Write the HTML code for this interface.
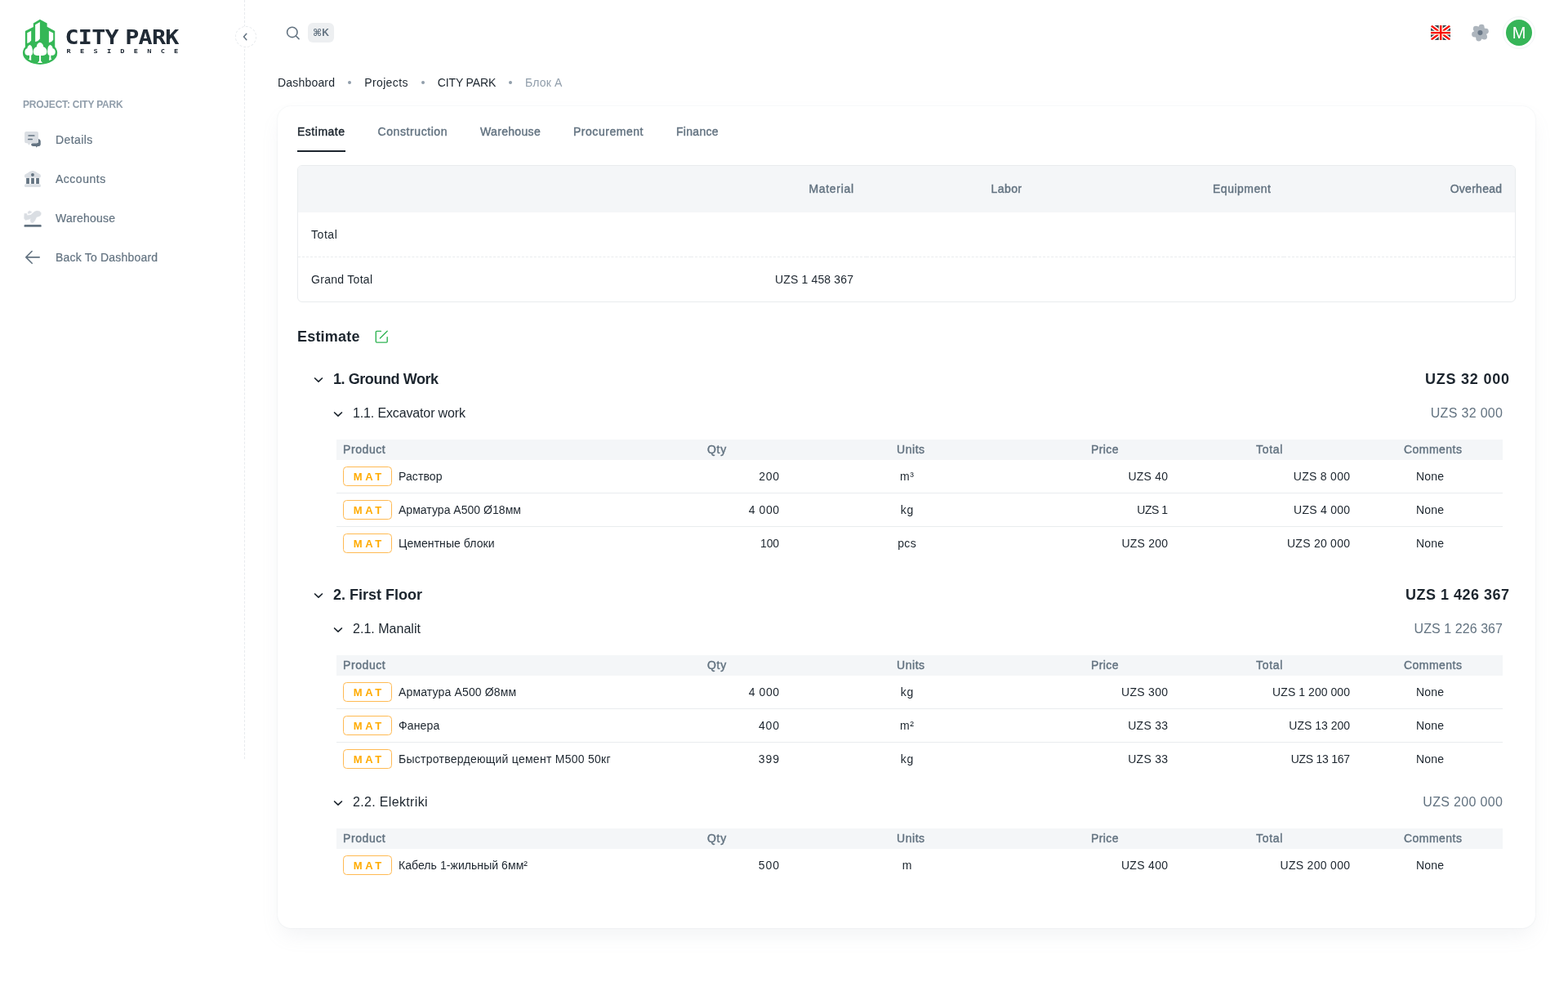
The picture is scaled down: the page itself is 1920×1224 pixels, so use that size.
<!DOCTYPE html>
<html lang="en"><head>
<meta charset="utf-8">
<title>CITY PARK — Блок A — Estimate</title>
<style>
*{box-sizing:border-box;margin:0;padding:0}
html,body{width:1920px;height:1224px;background:#fff;overflow:hidden}
body{font-family:"Liberation Sans",sans-serif;font-size:14px;line-height:22px;color:#1C252E;position:relative;-webkit-font-smoothing:antialiased}
svg{display:block}
/* ---------- sidebar ---------- */
.nav{position:absolute;left:0;top:0;width:300px;height:929px;border-right:1px dashed #E7EAED}
.logo{position:absolute;left:20px;top:15px;width:60px;height:70px}
.brand{position:absolute;left:80px;top:29px;width:142px;height:44px;color:#212B36;font-family:"DejaVu Sans Mono","Liberation Mono",monospace;font-weight:700;white-space:nowrap}
.brand b{position:absolute;left:-0.6px;top:3px;font-size:28.4px;line-height:32px;letter-spacing:-0.7px;word-spacing:-8.2px;transform:scaleY(.885);transform-origin:0 0}
.brand i{position:absolute;left:1.6px;top:28.3px;font-style:normal;font-size:8.6px;line-height:12px;letter-spacing:11.26px;transform:scaleY(.88);transform-origin:0 0}
.sub{position:absolute;left:28px;top:119px;font-size:12px;line-height:18px;font-weight:700;color:#919EAB;text-transform:uppercase;white-space:nowrap}
.menu{position:absolute;left:16px;top:149px;width:268px;list-style:none}
.menu li{height:44px;margin-bottom:4px;padding:0 8px 0 12px;display:flex;align-items:center;color:#637381;font-weight:500;-webkit-text-stroke:.2px currentColor;border-radius:8px;white-space:nowrap}
.menu li svg{width:24px;height:24px;margin-right:16px;flex:none}
.toggle{position:absolute;left:288px;top:32px;width:26px;height:26px;border-radius:50%;border:1px dashed #E7EAED;background:#fff}
.toggle svg{position:absolute;left:3.4px;top:3.8px;width:16px;height:16px}
/* ---------- header ---------- */
.hdr{position:absolute;left:300px;top:0;width:1620px;height:72px}
.hdr .search{position:absolute;left:47px;top:28px;width:24px;height:24px}
.kbd{position:absolute;left:77px;top:28px;width:32px;height:24px;border-radius:6px;background:#EDEFF1;color:#637381;font-size:12px;line-height:24px;font-weight:700;text-align:center;font-family:"Liberation Sans","DejaVu Sans",sans-serif;white-space:nowrap}
.flag{position:absolute;left:1452px;top:31px;width:24px;height:18px;border-radius:2.5px;overflow:hidden}
.gear{position:absolute;left:1500px;top:28px;width:24px;height:24px}
.ava{position:absolute;left:1540px;top:20px;width:40px;height:40px;border-radius:50%;border:1.5px solid #F1F3F5;display:flex;align-items:center;justify-content:center}
.ava span{width:32px;height:32px;border-radius:50%;background:#36B558;color:#fff;font-size:20px;line-height:32px;text-align:center;display:block}
/* ---------- main ---------- */
.crumbs{position:absolute;left:340px;top:90px;height:22px;display:flex;align-items:center;list-style:none;white-space:nowrap}
.crumbs li{display:block}
.crumbs li.dot{width:4px;height:4px;border-radius:50%;background:#919EAB;margin:0 16px}
.crumbs li.cur{color:#919EAB}
.card{position:absolute;left:340px;top:130px;width:1540px;height:1006px;border-radius:16px;background:#fff;box-shadow:0 0 2px 0 rgba(145,158,171,.2),0 12px 24px -4px rgba(145,158,171,.12)}
.tabs{position:absolute;left:24px;top:7px;height:48px;display:flex;list-style:none;white-space:nowrap}
.tabs li{height:48px;line-height:48px;font-weight:400;-webkit-text-stroke:.42px currentColor;color:#637381;margin-right:40px;position:relative}
.tabs li.on{color:#1C252E}
.tabs li.on:after{content:"";position:absolute;left:0;right:0;bottom:-1px;height:2px;background:#1C252E}
.sum{position:absolute;left:24px;top:72px;width:1492px;height:168px;border:1px solid #E9ECEE;border-radius:6px;overflow:hidden}
.sum table{border-collapse:separate;border-spacing:0;width:1490px;table-layout:fixed}
.sum th{height:57px;background:#F4F6F8;color:#637381;font-weight:400;-webkit-text-stroke:.42px currentColor;text-align:right;padding:0 16px 2px;white-space:nowrap}
.sum td{height:54px;text-align:right;padding:0 16px;white-space:nowrap}
.sum tr.r1 td{border-bottom:1px dashed #E9ECEE;height:55px}
.sum th:first-child,.sum td:first-child{text-align:left}
h6{position:absolute;left:24px;top:268px;font-size:18px;line-height:28px;font-weight:700;white-space:nowrap}
.edit{position:absolute;left:117px;top:272px;width:20px;height:20px}
.sec{position:absolute;left:24px;width:1492px}
.sh{position:absolute;left:0;width:1484px;height:28px;font-size:18px;line-height:28px;font-weight:700;white-space:nowrap}
.sh svg,.ss svg{position:absolute;width:16px;height:16px}
.sh svg{left:18px;top:6.7px}
.sh span{position:absolute;left:44px;top:0}
.sh em{position:absolute;right:0;top:0;font-style:normal}
.ss{position:absolute;left:0;width:1476px;height:24px;font-size:16px;line-height:24px;white-space:nowrap}
.ss svg{left:42px;top:4.7px}
.ss span{position:absolute;left:68px;top:0}
.ss em{position:absolute;right:0;top:0;font-style:normal;color:#637381}
.it{position:absolute;left:48px;width:1428px;border-collapse:separate;border-spacing:0;table-layout:fixed}
.it th{height:25px;background:#F4F6F8;color:#637381;font-weight:400;-webkit-text-stroke:.42px currentColor;text-align:left;padding:0 0 1px 8px;line-height:24px;white-space:nowrap}
.it td{height:41px;padding:0;border-bottom:1px solid #E9ECEE;white-space:nowrap;vertical-align:middle}
.it tr:last-child td{border-bottom:0;height:40px}
.it td.p{padding-left:8px}
.it td.p div{display:flex;align-items:center}
.chip{display:inline-block;width:60px;height:24px;border:1px solid #FFBA52;border-radius:4.5px;color:#FFAB00;font-size:13px;line-height:23px;font-weight:700;text-align:center;letter-spacing:3.7px;padding-left:3.7px;margin-right:8px;flex:none}
.it td.q{text-align:right;padding-right:136px}
.it td.u{padding-left:0}
.it td.u span{display:block;width:41px;text-align:center}
.it td.r{text-align:right;padding-right:100px}
.it td.t{text-align:right;padding-right:58px}
.it td.c{padding-left:23px}
</style>
</head>
<body>
<aside class="nav">
  <svg class="logo" viewBox="0 0 1049 1224" aria-label="City Park Residence logo">
    <path fill="#35B756" d="M505 152 658 236V312L826 402V760H190V402L364 316V236Z"></path>
    <ellipse fill="#35B756" cx="508" cy="870" rx="370" ry="247"></ellipse>
    <path fill="#fff" d="M232 440 318 398V602Q290 650 232 665ZM405 268 505 212V568Q470 625 405 636ZM697 398 790 445V588Q760 640 697 650Z"></path>
    <path fill="#fff" d="M290 700C318 706 338 735 340 772C348 790 352 820 352 850C352 895 340 922 318 922V1030L262 1008L280 988V922H232C200 922 182 895 182 850C182 812 200 785 234 775C236 735 262 706 290 700Z"></path>
    <path fill="#fff" d="M725 700C753 706 778 735 780 775C815 785 835 812 835 850C835 895 815 922 785 922H741V988L757 1010L700 1030L708 922H700C680 922 668 895 668 850C668 820 670 790 674 772C676 735 697 706 725 700Z"></path>
    <path fill="#fff" d="M505 648C545 655 580 690 580 740C625 750 655 795 655 845C655 895 620 926 570 926H526V1042L560 1082H455L490 1042V926H440C390 926 362 895 362 845C362 795 390 750 435 740C432 690 465 655 505 648Z"></path>
  </svg>
  <div class="brand"><b>CITY PARK</b><i>RESIDENCE</i></div>
  <div class="sub" style="letter-spacing: -0.21px;">PROJECT: CITY PARK</div>
  <ul class="menu">
    <li style="letter-spacing: 0.42px;"><svg viewBox="0 0 24 24"><path fill="#637381" d="M19 10.9c1.6.3 2.75 1.5 2.75 3.1v3.5c0 1.5-1.1 2.6-2.6 2.6h-1.3l-1 1.6-1-1.6h-3.2c-1.4 0-2.5-.9-2.5-2 0-.9.7-1.9 1.9-1.9H17a2 2 0 0 0 2-2z"></path><path fill="#DADEE3" d="M4.100 2.100H17a2 2 0 0 1 2 2v10.100a2 2 0 0 1-2 2H9.500L7.400 18.800 5.700 16.200H4.100a2 2 0 0 1-2-2V4.100a2 2 0 0 1 2-2z"></path><rect x="6.300" y="6.150" width="8.300" height="1.700" rx=".85" fill="#637381"></rect><rect x="6" y="10.650" width="6" height="1.700" rx=".85" fill="#637381"></rect></svg>Details</li>
    <li style="letter-spacing: 0.51px;"><svg viewBox="0 0 24 24"><path fill="#DADEE3" d="M2 8.200C2 7 3 6.300 4.500 5.600 7 4.400 9 2.100 12 2.100s5 2.300 7.400 3.500c1.500.7 2.500 1.400 2.500 2.600v.9c0 .9-.7 1.500-1.600 1.500H3.600C2.700 10.600 2 10 2 9.100Z"></path><circle cx="11.950" cy="7" r="1.950" fill="#637381"></circle><rect x="4.150" y="10.900" width="3.750" height="7.100" fill="#637381"></rect><rect x="10.150" y="10.900" width="3.700" height="7.100" fill="#637381"></rect><rect x="16.200" y="10.900" width="3.700" height="7.100" fill="#637381"></rect><rect x="1.950" y="18.300" width="19.950" height="3.600" rx="1.500" fill="#DADEE3"></rect></svg>Accounts</li>
    <li style="letter-spacing: 0.26px;"><svg viewBox="0 0 24 24"><path fill="#DADEE3" stroke="#DADEE3" stroke-width=".3" stroke-linejoin="round" d="M1.80 6.36 4.75 6.36 5.40 8.48 9.65 7.99 14.22 4.07 16.84 3.09 20.43 3.42 22.39 5.71 22.07 8.32 20.10 9.79 16.84 10.77 14.55 15.51 12.26 17.80 9.81 17.14 8.99 14.53 9.81 12.24 7.69 13.55 3.11 14.53 1.48 12.24Z"></path><path fill="#DADEE3" stroke="#DADEE3" stroke-width=".3" stroke-linejoin="round" d="M6.38 4.07 8.34 2.93 11.12 4.73 8.34 6.29 6.12 6.62Z"></path><rect x="1.500" y="20.100" width="21.200" height="2.750" rx="1.200" fill="#637381"></rect></svg>Warehouse</li>
    <li style="letter-spacing: 0.2px;"><svg viewBox="0 0 24 24" fill="none" stroke="#637381" stroke-width="1.600" stroke-linecap="round" stroke-linejoin="round"><path d="M20.200 11.900H4M11.100 4.500 3.800 11.900l7.400 7.400"></path></svg>Back To Dashboard</li>
  </ul>
</aside>
<div class="toggle"><svg viewBox="0 0 16 16" fill="none" stroke="#637381" stroke-width="1.5" stroke-linecap="round" stroke-linejoin="round"><path d="M9.800 4.200 6.500 7.950l3.300 3.750"></path></svg></div>
<header class="hdr">
  <svg class="search" viewBox="0 0 24 24" fill="none" stroke="#637381" stroke-width="1.6" stroke-linecap="round"><circle cx="10.8" cy="11.4" r="6.2"></circle><path d="M15.6 16.2 19 19.6"></path></svg>
  <div class="kbd">⌘K</div>
  <svg class="flag" viewBox="0 0 24 18"><rect width="24" height="18" fill="#3F4953"></rect><path d="M-1-.75 25 18.750M25-.75-1 18.750" stroke="#fff" stroke-width="5.400"></path><path d="M-1-.75 25 18.750M25-.75-1 18.750" stroke="#F80B00" stroke-width="2.300"></path><path d="M12.200 0V18M0 9.150H24" stroke="#FFF9E8" stroke-width="4.900"></path><path d="M12.200 0V18M0 9.150H24" stroke="#F80B00" stroke-width="2.400"></path></svg>
  <svg class="gear" viewBox="0 0 24 24"><g fill="#ADB5BD"><circle cx="12.45" cy="12.1" r="7.900"></circle><circle cx="14.18" cy="5.16" r="3.45"></circle><circle cx="19.32" cy="10.13" r="3.45"></circle><circle cx="17.59" cy="17.07" r="3.45"></circle><circle cx="10.72" cy="19.04" r="3.45"></circle><circle cx="5.58" cy="14.07" r="3.45"></circle><circle cx="7.31" cy="7.13" r="3.45"></circle></g><circle cx="12.45" cy="12.1" r="3.050" fill="#6B7988"></circle></svg>
  <div class="ava"><span>M</span></div>
</header>
<ul class="crumbs"><li style="letter-spacing: 0.19px;">Dashboard</li><li class="dot"></li><li style="letter-spacing: 0.38px;">Projects</li><li class="dot"></li><li style="letter-spacing: -0.15px;">CITY PARK</li><li class="dot"></li><li class="cur" style="letter-spacing: 0.17px;">Блок A</li></ul>
<section class="card">
  <ul class="tabs"><li class="on" style="letter-spacing: 0.51px;">Estimate</li><li style="letter-spacing: 0.58px;">Construction</li><li style="letter-spacing: 0.31px;">Warehouse</li><li style="letter-spacing: 0.53px;">Procurement</li><li style="letter-spacing: 0.31px;">Finance</li></ul>
  <div class="sum"><table>
    <tbody><tr><th style="width:481px"></th><th style="width: 215px; letter-spacing: 0.67px; padding-right: 15.33px;">Material</th><th style="width: 206px; letter-spacing: 0.41px; padding-right: 15.59px;">Labor</th><th style="width: 305px; letter-spacing: 0.51px; padding-right: 15.49px;">Equipment</th><th style="letter-spacing: 0.26px; padding-right: 15.74px;">Overhead</th></tr>
    <tr class="r1"><td style="letter-spacing: 0.55px;">Total</td><td></td><td></td><td></td><td></td></tr>
    <tr><td style="letter-spacing: 0.29px;">Grand Total</td><td style="letter-spacing: 0.16px; padding-right: 15.84px;">UZS 1 458 367</td><td></td><td></td><td></td></tr>
  </tbody></table></div>
  <h6 style="letter-spacing: 0.2px;">Estimate</h6>
  <svg class="edit" viewBox="0 0 20 20" fill="none" stroke="#31B454" stroke-width="1.4" stroke-linecap="round" stroke-linejoin="round"><path d="M9.400 3.400H4.300a1 1 0 0 0-1 1v11.700a1 1 0 0 0 1 1h11.900a1 1 0 0 0 1-1v-5.400"></path><path d="M8.400 12.100 17.200 3.300"></path></svg>
  <div class="sec" style="top:0">
<div class="sh" style="top:320px"><svg viewBox="0 0 16 16" fill="none" stroke="#1C252E" stroke-width="1.7" stroke-linecap="round" stroke-linejoin="round"><path d="M3.600 6 8 10.200 12.400 6"></path></svg><span style="letter-spacing: -0.43px;">1. Ground Work</span><em style="letter-spacing: 0.78px; right: -0.78px;">UZS 32 000</em></div>
<div class="ss" style="top:364px"><svg viewBox="0 0 16 16" fill="none" stroke="#1C252E" stroke-width="1.7" stroke-linecap="round" stroke-linejoin="round"><path d="M3.600 6 8 10.200 12.400 6"></path></svg><span style="letter-spacing: -0.14px;">1.1. Excavator work</span><em style="letter-spacing: 0.33px; right: -0.33px;">UZS 32 000</em></div>
<table class="it" style="top:408px"><thead><tr><th style="width: 446px; letter-spacing: 0.58px;">Product</th><th style="width: 232px; letter-spacing: 0.71px;">Qty</th><th style="width: 238px; letter-spacing: 0.55px;">Units</th><th style="width: 202px; letter-spacing: 0.4px;">Price</th><th style="width: 181px; letter-spacing: 0.7px;">Total</th><th style="letter-spacing: 0.46px;">Comments</th></tr></thead><tbody><tr><td class="p"><div><span class="chip">MAT</span><span style="letter-spacing: 0.1px;">Раствор</span></div></td><td class="q" style="letter-spacing: 0.68px; padding-right: 135.32px;">200</td><td class="u"><span style="letter-spacing: 0.7px; padding-left: 0.7px;">m³</span></td><td class="r" style="letter-spacing: 0.23px; padding-right: 99.77px;">UZS 40</td><td class="t" style="letter-spacing: 0.28px; padding-right: 57.72px;">UZS 8 000</td><td class="c" style="letter-spacing: 0.23px;">None</td></tr><tr><td class="p"><div><span class="chip">MAT</span><span style="letter-spacing: 0.03px;">Арматура А500 Ø18мм</span></div></td><td class="q" style="letter-spacing: 0.54px; padding-right: 135.46px;">4 000</td><td class="u"><span style="letter-spacing: 0.75px; padding-left: 0.75px;">kg</span></td><td class="r" style="letter-spacing: -0.5px; padding-right: 100.5px;">UZS 1</td><td class="t" style="letter-spacing: 0.25px; padding-right: 57.75px;">UZS 4 000</td><td class="c" style="letter-spacing: 0.23px;">None</td></tr><tr><td class="p"><div><span class="chip">MAT</span><span style="letter-spacing: 0.07px;">Цементные блоки</span></div></td><td class="q" style="letter-spacing: -0.2px; padding-right: 136.2px;">100</td><td class="u"><span style="letter-spacing: 0.4px; padding-left: 0.4px;">pcs</span></td><td class="r" style="letter-spacing: 0.23px; padding-right: 99.77px;">UZS 200</td><td class="t" style="letter-spacing: 0.26px; padding-right: 57.74px;">UZS 20 000</td><td class="c" style="letter-spacing: 0.23px;">None</td></tr></tbody></table>
<div class="sh" style="top:584px"><svg viewBox="0 0 16 16" fill="none" stroke="#1C252E" stroke-width="1.7" stroke-linecap="round" stroke-linejoin="round"><path d="M3.600 6 8 10.200 12.400 6"></path></svg><span>2. First Floor</span><em style="letter-spacing: 0.49px; right: -0.49px;">UZS 1 426 367</em></div>
<div class="ss" style="top:628px"><svg viewBox="0 0 16 16" fill="none" stroke="#1C252E" stroke-width="1.7" stroke-linecap="round" stroke-linejoin="round"><path d="M3.600 6 8 10.200 12.400 6"></path></svg><span style="letter-spacing: 0.02px;">2.1. Manalit</span><em style="letter-spacing: 0.07px; right: -0.07px;">UZS 1 226 367</em></div>
<table class="it" style="top:672px"><thead><tr><th style="width: 446px; letter-spacing: 0.58px;">Product</th><th style="width: 232px; letter-spacing: 0.71px;">Qty</th><th style="width: 238px; letter-spacing: 0.55px;">Units</th><th style="width: 202px; letter-spacing: 0.4px;">Price</th><th style="width: 181px; letter-spacing: 0.7px;">Total</th><th style="letter-spacing: 0.46px;">Comments</th></tr></thead><tbody><tr><td class="p"><div><span class="chip">MAT</span><span style="letter-spacing: 0.15px;">Арматура А500 Ø8мм</span></div></td><td class="q" style="letter-spacing: 0.54px; padding-right: 135.46px;">4 000</td><td class="u"><span style="letter-spacing: 0.75px; padding-left: 0.75px;">kg</span></td><td class="r" style="letter-spacing: 0.29px; padding-right: 99.71px;">UZS 300</td><td class="t" style="letter-spacing: 0.06px; padding-right: 57.94px;">UZS 1 200 000</td><td class="c" style="letter-spacing: 0.23px;">None</td></tr><tr><td class="p"><div><span class="chip">MAT</span><span style="letter-spacing: 0.14px;">Фанера</span></div></td><td class="q" style="letter-spacing: 0.83px; padding-right: 135.17px;">400</td><td class="u"><span style="letter-spacing: 0.46px; padding-left: 0.46px;">m²</span></td><td class="r" style="letter-spacing: 0.26px; padding-right: 99.74px;">UZS 33</td><td class="t">UZS 13 200</td><td class="c" style="letter-spacing: 0.23px;">None</td></tr><tr><td class="p"><div><span class="chip">MAT</span><span style="letter-spacing: 0.26px;">Быстротвердеющий цемент М500 50кг</span></div></td><td class="q" style="letter-spacing: 0.92px; padding-right: 135.08px;">399</td><td class="u"><span style="letter-spacing: 0.75px; padding-left: 0.75px;">kg</span></td><td class="r" style="letter-spacing: 0.26px; padding-right: 99.74px;">UZS 33</td><td class="t" style="letter-spacing: -0.27px; padding-right: 58.27px;">UZS 13 167</td><td class="c" style="letter-spacing: 0.23px;">None</td></tr></tbody></table>
<div class="ss" style="top:840px"><svg viewBox="0 0 16 16" fill="none" stroke="#1C252E" stroke-width="1.7" stroke-linecap="round" stroke-linejoin="round"><path d="M3.600 6 8 10.200 12.400 6"></path></svg><span style="letter-spacing: 0.34px;">2.2. Elektriki</span><em style="letter-spacing: 0.34px; right: -0.34px;">UZS 200 000</em></div>
<table class="it" style="top:884px"><thead><tr><th style="width: 446px; letter-spacing: 0.58px;">Product</th><th style="width: 232px; letter-spacing: 0.71px;">Qty</th><th style="width: 238px; letter-spacing: 0.55px;">Units</th><th style="width: 202px; letter-spacing: 0.4px;">Price</th><th style="width: 181px; letter-spacing: 0.7px;">Total</th><th style="letter-spacing: 0.46px;">Comments</th></tr></thead><tbody><tr><td class="p"><div><span class="chip">MAT</span><span style="letter-spacing: 0.06px;">Кабель 1-жильный 6мм²</span></div></td><td class="q" style="letter-spacing: 0.89px; padding-right: 135.12px;">500</td><td class="u"><span style="letter-spacing: 0.45px; padding-left: 0.45px;">m</span></td><td class="r" style="letter-spacing: 0.3px; padding-right: 99.7px;">UZS 400</td><td class="t" style="letter-spacing: 0.3px; padding-right: 57.7px;">UZS 200 000</td><td class="c" style="letter-spacing: 0.23px;">None</td></tr></tbody></table>
  </div>
</section>


</body></html>
